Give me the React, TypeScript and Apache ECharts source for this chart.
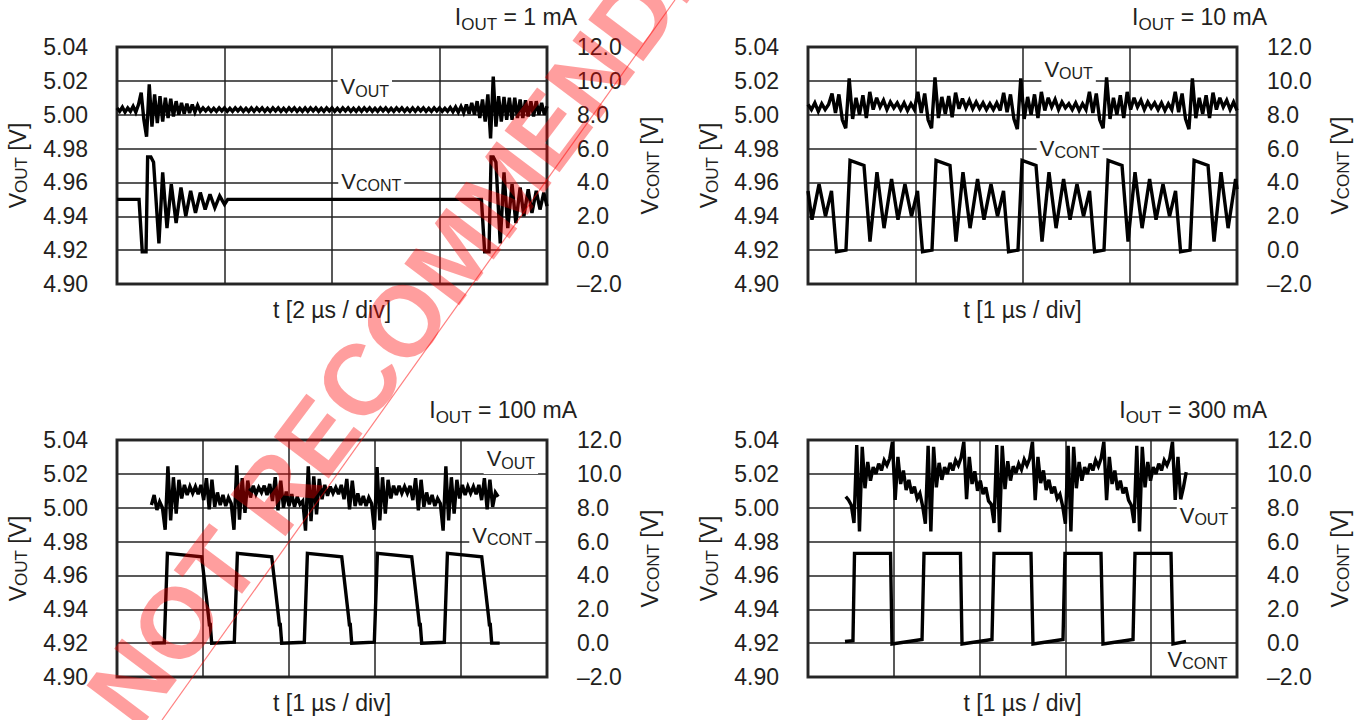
import React, { useEffect, useRef } from 'react';
import * as echarts from 'echarts';

const FONT = '"Liberation Sans", Arial, Helvetica, sans-serif';
const INK = '#231f20';

// ---------- panel meta ----------
const PANEL_CURRENT = ['1 mA', '10 mA', '100 mA', '300 mA'];
const TIME_LABELS = ['t [2 µs / div]', 't [1 µs / div]', 't [1 µs / div]', 't [1 µs / div]'];
const TIME_MAX = [8, 4, 5, 5];
const TIME_DIV = [2, 1, 1, 1];
const VOUT_MIN = 4.9;
const VOUT_MAX = 5.04;
const VOUT_STEP = 0.02;
const VCONT_MIN = -2;
const VCONT_MAX = 12;
const VCONT_STEP = 2;

// ---------- VOUT traces (scope samples, start time + sample period in µs) ----------
const VOUT_T0 = [0, 0, 0.4, 0.44];
const VOUT_DT = [0.05, 0.032, 0.032, 0.032];

const VOUT_1 = [
  5.004, 5.002, 5.0045, 5.0015, 5.004, 5.002, 5.005, 5.0015,
  5.006, 5.013, 4.997, 4.987, 5.018, 4.993, 5.012, 4.995, 5.011, 4.996, 5.010, 4.998,
  5.0095, 4.999, 5.008, 5.000, 5.007, 5.0005, 5.0065, 5.001, 5.006, 5.0015, 5.0055,
  5.002, 5.004, 5.0022, 5.004, 5.002, 5.0038, 5.002, 5.004, 5.0022, 5.004,
  5.002, 5.0038, 5.002, 5.004, 5.0022, 5.004, 5.002, 5.0038, 5.002, 5.004,
  5.002, 5.004, 5.0022, 5.004, 5.002, 5.0038, 5.002, 5.004, 5.0022, 5.004,
  5.002, 5.0038, 5.002, 5.004, 5.0022, 5.004, 5.002, 5.0038, 5.002, 5.004,
  5.002, 5.004, 5.0022, 5.004, 5.002, 5.0038, 5.002, 5.004, 5.0022, 5.004,
  5.002, 5.0038, 5.002, 5.004, 5.0022, 5.004, 5.002, 5.0038, 5.002, 5.004,
  5.002, 5.004, 5.0022, 5.004, 5.002, 5.0038, 5.002, 5.004, 5.0022, 5.004,
  5.002, 5.0038, 5.002, 5.004, 5.0022, 5.004, 5.002, 5.0038, 5.002, 5.004,
  5.002, 5.004, 5.0022, 5.004, 5.002, 5.0038, 5.002, 5.004, 5.0022, 5.004,
  5.002, 5.0038, 5.002, 5.0042, 5.0018, 5.0045, 5.0015, 5.0048, 5.0012,
  5.006, 5.0005, 5.007, 5.000, 5.008, 4.998, 5.009, 4.996, 5.012, 4.986,
  5.0225, 4.993, 5.011, 4.996, 5.0105, 4.997, 5.010, 4.997, 5.010, 4.998,
  5.009, 4.998, 5.0085, 4.999, 5.008, 4.999, 5.008, 5.000, 5.007, 5.000, 5.005,
];

const VOUT_2 = [
  5.006, 5.003, 5.007, 5.002, 5.0065, 5.003, 5.006, 5.0125, 5.001, 5.012, 4.997, 4.992,
  5.0215, 4.9975, 5.010, 5.000, 5.0115, 4.998, 5.0135, 5.003, 5.010, 5.0045, 5.0085, 5.003, 5.0075,
  5.004, 5.007, 5.003, 5.007, 5.0025, 5.0065, 5.003, 5.0135, 5.001, 5.0125, 4.997, 4.992,
  5.022, 4.998, 5.0105, 5.0005, 5.011, 4.9985, 5.013, 5.0035, 5.0095, 5.004, 5.0085, 5.0035, 5.0075,
  5.0035, 5.007, 5.003, 5.0065, 5.003, 5.007, 5.0025, 5.013, 5.0015, 5.012, 4.9975, 4.9915,
  5.0215, 4.9975, 5.0105, 5.000, 5.012, 4.998, 5.0135, 5.0025, 5.010, 5.0045, 5.009, 5.003, 5.0075,
  5.004, 5.0065, 5.003, 5.007, 5.0025, 5.0065, 5.003, 5.0135, 5.001, 5.0125, 4.997, 4.992,
  5.022, 4.9975, 5.010, 5.000, 5.0115, 4.998, 5.0135, 5.003, 5.010, 5.0045, 5.0085, 5.003, 5.0075,
  5.004, 5.007, 5.003, 5.007, 5.0025, 5.0065, 5.003, 5.0135, 5.0015, 5.0125, 4.9975, 4.9915,
  5.0215, 4.998, 5.010, 5.0005, 5.0115, 4.998, 5.013, 5.003, 5.010, 5.0045, 5.0085, 5.003, 5.0075, 5.0025,
];

const VOUT_3 = [
  5.0016, 5.0075, 4.9987, 5.0036, 5.0, 4.987,
  5.0245, 4.9925, 5.018, 4.9965, 5.0165, 5.0055, 5.0135, 5.0075, 5.0125, 5.0085, 5.0125, 5.008, 5.0135,
  5.0045, 5.0175, 4.999, 5.0165, 5.0005, 5.009, 5.0015, 5.0075, 5.001, 5.006, 5.0025, 4.987,
  5.025, 4.993, 5.0175, 4.997, 5.016, 5.006, 5.013, 5.008, 5.012, 5.009, 5.013, 5.0075, 5.014,
  5.004, 5.018, 4.9985, 5.016, 5.0, 5.0095, 5.001, 5.008, 5.0005, 5.0065, 5.002, 5.004, 4.9865,
  5.0245, 4.992, 5.0185, 4.996, 5.017, 5.005, 5.0135, 5.007, 5.0125, 5.0085, 5.012, 5.008, 5.0135,
  5.005, 5.017, 4.999, 5.016, 5.001, 5.0085, 5.0015, 5.007, 5.001, 5.006, 5.0025, 4.987,
  5.024, 4.9925, 5.018, 4.9965, 5.0165, 5.0055, 5.013, 5.0075, 5.013, 5.0085, 5.0125, 5.0085, 5.013,
  5.0045, 5.0175, 4.9985, 5.0165, 5.0005, 5.009, 5.002, 5.0075, 5.001, 5.0055, 5.0025, 4.9865,
  5.0245, 4.9925, 5.018, 4.9965, 5.0165, 5.0055, 5.0135, 5.0075, 5.0125, 5.0085, 5.0125, 5.008, 5.0135,
  5.0045, 5.0175, 4.999, 5.0165, 5.0005, 5.009, 5.0065,
];

const VOUT_4 = [
  5.0065, 5.0046, 5.0016,
  4.991, 5.037, 4.986, 5.036, 5.0115, 5.027, 5.016, 5.024, 5.020, 5.026, 5.022, 5.028, 5.025,
  5.029, 5.039, 5.0046, 5.030, 5.014, 5.022, 5.0105, 5.0164, 5.0085, 5.0124, 5.0055, 5.0085, 5.001,
  4.9905, 5.0365, 4.986, 5.036, 5.012, 5.0265, 5.0165, 5.024, 5.020, 5.0265, 5.022, 5.028, 5.025,
  5.0295, 5.039, 5.005, 5.030, 5.014, 5.0215, 5.010, 5.016, 5.008, 5.012, 5.004, 5.002,
  4.991, 5.037, 4.9855, 5.0365, 5.011, 5.0275, 5.016, 5.0245, 5.0205, 5.026, 5.0225, 5.0285, 5.025,
  5.029, 5.039, 5.0045, 5.030, 5.0145, 5.022, 5.0105, 5.0165, 5.0085, 5.0125, 5.0055, 5.008, 5.001,
  4.9905, 5.0365, 4.986, 5.036, 5.0115, 5.027, 5.016, 5.024, 5.020, 5.026, 5.022, 5.028, 5.0245,
  5.029, 5.039, 5.0045, 5.030, 5.014, 5.022, 5.0105, 5.016, 5.0085, 5.012, 5.0045, 5.0015,
  4.991, 5.0365, 4.986, 5.036, 5.012, 5.027, 5.016, 5.024, 5.020, 5.026, 5.022, 5.028, 5.025,
  5.029, 5.039, 5.0046, 5.030, 5.005, 5.012, 5.021,
];

// ---------- VCONT traces ([t µs, V]) ----------
const VCONT_1 = [
  [0, 3.0], [0.41, 3.0], [0.47, -0.1], [0.54, -0.1], [0.57, 5.5], [0.63, 5.5], [0.68, 5.2],
  [0.78, 0.4], [0.85, 4.6], [0.93, 1.3], [1.01, 3.9], [1.1, 1.6], [1.19, 3.7], [1.28, 2.0],
  [1.37, 3.5], [1.46, 2.2], [1.55, 3.4], [1.64, 2.4], [1.73, 3.3], [1.82, 2.5], [1.91, 3.2],
  [2.0, 2.7], [2.06, 3.0], [6.78, 3.0], [6.84, -0.1], [6.92, -0.1], [6.96, 5.5], [7.0, 5.5],
  [7.05, 5.2], [7.13, 0.4], [7.2, 4.6], [7.27, 1.3], [7.35, 3.9], [7.42, 1.6], [7.5, 3.7],
  [7.57, 2.0], [7.65, 3.6], [7.72, 2.2], [7.8, 3.5], [7.87, 2.4], [7.94, 3.4], [8.0, 2.6],
];

const VCONT_2 = [
  [0, 3.5], [0.037, 1.8], [0.103, 3.9], [0.163, 2.0], [0.219, 3.5], [0.266, -0.1], [0.354, 0.0],
  [0.392, 5.3], [0.522, 5.0], [0.578, 0.5], [0.643, 4.6], [0.709, 1.3], [0.779, 4.2], [0.839, 1.8],
  [0.904, 3.9], [0.965, 2.0], [1.021, 3.5], [1.068, -0.1], [1.156, 0.0], [1.194, 5.3], [1.324, 5.0],
  [1.38, 0.5], [1.445, 4.6], [1.511, 1.3], [1.581, 4.2], [1.641, 1.8], [1.706, 3.9], [1.767, 2.0],
  [1.823, 3.5], [1.87, -0.1], [1.958, 0.0], [1.996, 5.3], [2.126, 5.0], [2.182, 0.5], [2.247, 4.6],
  [2.313, 1.3], [2.383, 4.2], [2.443, 1.8], [2.508, 3.9], [2.569, 2.0], [2.625, 3.5], [2.672, -0.1],
  [2.76, 0.0], [2.798, 5.3], [2.928, 5.0], [2.984, 0.5], [3.049, 4.6], [3.115, 1.3], [3.185, 4.2],
  [3.245, 1.8], [3.31, 3.9], [3.371, 2.0], [3.427, 3.5], [3.474, -0.1], [3.562, 0.0], [3.6, 5.3],
  [3.73, 5.0], [3.786, 0.5], [3.851, 4.6], [3.917, 1.3], [3.987, 4.2], [4.0, 3.6],
];

const VCONT_3 = [
  [0.403, 0.0], [0.55, 0.02], [0.586, 5.3], [0.985, 5.1], [1.066, 1.5], [1.076, 1.0], [1.083, 1.2], [1.101, 0.0],
  [1.364, 0.06], [1.4, 5.3], [1.799, 5.1], [1.88, 1.5], [1.89, 1.0], [1.897, 1.2], [1.915, 0.0],
  [2.178, 0.05], [2.214, 5.3], [2.613, 5.1], [2.694, 1.5], [2.704, 1.0], [2.711, 1.2], [2.729, 0.0],
  [2.992, 0.06], [3.028, 5.3], [3.427, 5.1], [3.508, 1.5], [3.518, 1.0], [3.525, 1.2], [3.543, 0.0],
  [3.806, 0.05], [3.842, 5.3], [4.241, 5.1], [4.322, 1.5], [4.332, 1.0], [4.339, 1.2], [4.357, 0.0],
  [4.45, 0.0],
];

const VCONT_4 = [
  [0.431, 0.1], [0.524, 0.15], [0.542, 5.3], [0.962, 5.3], [0.979, -0.05], [1.329, 0.22],
  [1.352, 5.3], [1.777, 5.3], [1.795, -0.05], [2.144, 0.22], [2.168, 5.3], [2.599, 5.3],
  [2.622, -0.05], [2.972, 0.22], [2.995, 5.3], [3.415, 5.3], [3.438, -0.05], [3.788, 0.22],
  [3.811, 5.3], [4.231, 5.3], [4.254, -0.05], [4.406, 0.1],
];

// in-plot trace labels [t, value on own axis]
const VOUT_LABEL_AT = [[4.61, 5.0158], [2.43, 5.0261], [4.58, 5.0282], [4.615, 4.9947]];
const VCONT_LABEL_AT = [[4.73, 4.0], [2.44, 5.97], [4.48, 6.29], [4.54, -1.04]];

const VOUT_DATA = [VOUT_1, VOUT_2, VOUT_3, VOUT_4];
const VCONT_DATA = [VCONT_1, VCONT_2, VCONT_3, VCONT_4];

// ---------- layout ----------
const GRIDS = [
  { left: 117, top: 47, width: 430, height: 237 },
  { left: 808, top: 47, width: 429, height: 237 },
  { left: 117, top: 440, width: 430, height: 237 },
  { left: 808, top: 440, width: 429, height: 237 },
];
const TITLE_POS = [[577, 19], [1267, 19], [577, 411.5], [1267, 411.5]];

function richSet(big: number, small: number, line: number) {
  const base = { color: INK, fill: INK, fontFamily: FONT };
  const center = line / 2;
  const baseline = center + 0.35 * big;
  return {
    a: { ...base, fontSize: big, lineHeight: line, verticalAlign: 'top' },
    sub: {
      ...base,
      fontSize: small,
      lineHeight: small,
      verticalAlign: 'top',
      padding: [Math.max(0, baseline + 3.5 - 0.35 * small - small / 2), 0, 0, 0],
    },
    sc: {
      ...base,
      fontSize: small,
      lineHeight: small,
      verticalAlign: 'top',
      padding: [Math.max(0, baseline - 0.35 * small - small / 2), 0, 0, 0],
    },
  };
}
const RICH_BIG = richSet(23, 17, 27);
const RICH_LABEL = richSet(22, 16, 26);

function sampled(t0: number, dt: number, values: number[]) {
  return values.map((v, i) => [Math.round((t0 + i * dt) * 10000) / 10000, v]);
}

function traceLabel(text: string, coord: number[]) {
  return {
    symbol: 'rect',
    symbolSize: 1,
    silent: true,
    itemStyle: { color: 'rgba(0,0,0,0)' },
    label: {
      show: true,
      position: 'inside',
      formatter: text,
      backgroundColor: '#fff',
      padding: [2, 3, 0, 3],
      rich: RICH_LABEL,
    },
    data: [{ coord }],
  };
}

function buildOption() {
  const grid: any[] = [];
  const xAxis: any[] = [];
  const yAxis: any[] = [];
  const series: any[] = [];
  for (let p = 0; p < 4; p++) {
    grid.push({ ...GRIDS[p], show: true, borderColor: '#333', borderWidth: 3, backgroundColor: 'transparent' });
    xAxis.push({
      gridIndex: p,
      type: 'value',
      min: 0,
      max: TIME_MAX[p],
      interval: TIME_DIV[p],
      axisLine: { show: false },
      axisTick: { show: false },
      axisLabel: { show: false },
      splitLine: { show: true, lineStyle: { color: '#222', width: 1.5 } },
      name: TIME_LABELS[p],
      nameLocation: 'middle',
      nameGap: 14,
      nameTextStyle: { fontSize: 23, color: INK, fontFamily: FONT },
    });
    yAxis.push({
      gridIndex: p,
      type: 'value',
      position: 'left',
      min: VOUT_MIN,
      max: VOUT_MAX,
      interval: VOUT_STEP,
      axisLine: { show: false },
      axisTick: { show: false },
      axisLabel: { formatter: (v: number) => v.toFixed(2), fontSize: 23, color: INK, fontFamily: FONT, margin: 29 },
      splitLine: { show: true, lineStyle: { color: '#222', width: 1.5 } },
      name: '{a|V}{sc|OUT}{a| [V]}',
      nameLocation: 'middle',
      nameRotate: 90,
      nameGap: 84,
      nameTextStyle: { rich: RICH_BIG },
    });
    yAxis.push({
      gridIndex: p,
      type: 'value',
      position: 'right',
      min: VCONT_MIN,
      max: VCONT_MAX,
      interval: VCONT_STEP,
      axisLine: { show: false },
      axisTick: { show: false },
      splitLine: { show: false },
      axisLabel: {
        formatter: (v: number) => (v < 0 ? '\u2013' + Math.abs(v).toFixed(1) : v.toFixed(1)),
        fontSize: 23,
        color: INK,
        fontFamily: FONT,
        margin: 30,
      },
      name: '{a|V}{sc|CONT}{a| [V]}',
      nameLocation: 'middle',
      nameRotate: 90,
      nameGap: 91,
      nameTextStyle: { rich: RICH_BIG },
    });
    const lineStyle = { color: '#000', width: 3.4, join: 'miter', miterLimit: 3 };
    series.push({
      type: 'line',
      name: 'VOUT',
      xAxisIndex: p,
      yAxisIndex: 2 * p,
      data: sampled(VOUT_T0[p], VOUT_DT[p], VOUT_DATA[p]),
      showSymbol: false,
      symbol: 'none',
      lineStyle,
      silent: true,
      markPoint: traceLabel('{a|V}{sc|OUT}', VOUT_LABEL_AT[p]),
    });
    series.push({
      type: 'line',
      name: 'VCONT',
      xAxisIndex: p,
      yAxisIndex: 2 * p + 1,
      data: VCONT_DATA[p],
      showSymbol: false,
      symbol: 'none',
      lineStyle,
      silent: true,
      markPoint: traceLabel('{a|V}{sc|CONT}', VCONT_LABEL_AT[p]),
    });
  }

  const graphic: any[] = TITLE_POS.map((pos, p) => ({
    type: 'text',
    x: pos[0],
    y: pos[1],
    silent: true,
    style: {
      text: '{a|I}{sub|OUT}{a| = ' + PANEL_CURRENT[p] + '}',
      rich: RICH_BIG,
      align: 'right',
      verticalAlign: 'middle',
      fill: INK,
    },
  }));
  graphic.push({
    type: 'line',
    silent: true,
    z: 100,
    shape: { x1: 162, y1: 720, x2: 675, y2: 0 },
    style: { stroke: 'rgba(255,0,0,0.5)', lineWidth: 1.2 },
  });
  graphic.push({
    type: 'text',
    x: 424,
    y: 294,
    rotation: 0.925,
    silent: true,
    z: 100,
    style: {
      text: 'NOT RECOMMENDED',
      fontSize: 100,
      fontWeight: 'bold',
      fontFamily: FONT,
      fill: 'rgba(255,0,0,0.38)',
      align: 'center',
      verticalAlign: 'middle',
    },
  });

  return {
    animation: false,
    backgroundColor: '#fff',
    textStyle: { fontFamily: FONT, color: INK },
    grid,
    xAxis,
    yAxis,
    series,
    graphic,
  };
}

export default function App() {
  const ref = useRef<HTMLDivElement>(null);
  useEffect(() => {
    if (!ref.current) return;
    const chart = echarts.init(ref.current, undefined, { renderer: 'svg' });
    chart.setOption(buildOption() as any);
    return () => chart.dispose();
  }, []);
  return (
    <div
      ref={ref}
      style={{ position: 'fixed', left: 0, top: 0, width: 1363, height: 720, background: '#fff' }}
    />
  );
}
